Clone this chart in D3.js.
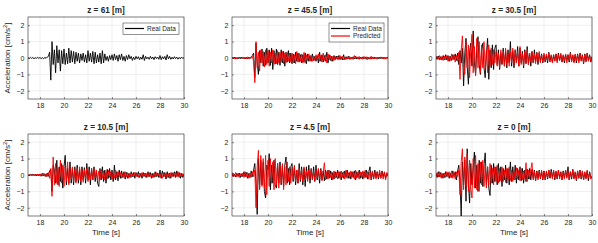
<!DOCTYPE html>
<html>
<head>
<meta charset="utf-8">
<script src="https://cdn.jsdelivr.net/npm/d3@7"></script>
<style>
  body { margin: 0; background: #fff; }
  text { font-family: "Liberation Sans", Arial, sans-serif; fill: #262626; }
</style>
</head>
<body>
<div id="chart"></div>
<script>
// sampling: 17.0 s .. 30.0 s every 0.1 s
let startTime = 17, sampleStep = 0.1, sampleCount = 131;
let time = d3.range(sampleCount).map(i => +(startTime + i * sampleStep).toFixed(1));

let titles = ["z = 61 [m]", "z = 45.5 [m]", "z = 30.5 [m]", "z = 10.5 [m]", "z = 4.5 [m]", "z = 0 [m]"];
let xTicks = [18, 20, 22, 24, 26, 28, 30];
let yTicks = [-2, -1, 0, 1, 2];

let real61 = [
  0.02,-0.03,0.04,-0.02,0.03,-0.04,0.02,-0.03,0.05,-0.02,
  0.03,-0.04,0.02,-0.05,0.04,-0.02,0.06,0.1,0.35,-1.35,
  1.0,-0.4,0.5,-0.9,0.75,-0.3,0.5,-0.8,0.45,-0.35,
  0.55,-0.4,0.3,-0.35,0.6,-0.3,0.45,-0.25,0.4,-0.35,
  0.35,-0.2,0.3,-0.3,0.25,-0.15,0.3,-0.25,0.2,-0.3,
  0.45,-0.2,0.3,-0.25,0.4,-0.35,0.35,-0.3,0.2,-0.25,
  0.3,-0.35,0.45,-0.3,0.25,-0.15,0.1,-0.2,0.15,-0.1,
  0.2,-0.15,0.25,-0.1,0.15,-0.2,0.2,-0.1,0.25,-0.15,
  0.1,-0.2,0.15,-0.1,0.2,-0.05,0.1,-0.15,0.05,-0.1,
  0.1,-0.05,0.08,-0.1,0.05,-0.08,0.2,-0.15,0.1,-0.05,
  0.05,-0.08,0.1,-0.05,0.06,-0.1,0.08,-0.04,0.06,-0.08,
  0.15,-0.1,0.08,-0.05,0.1,-0.12,0.2,-0.05,0.1,-0.08,
  0.05,-0.06,0.08,-0.04,0.05,-0.07,0.04,-0.05,0.06,-0.03,
  0.02];

let real455 = [
  0.05,-0.04,0.06,-0.05,0.03,-0.06,0.05,-0.04,0.06,-0.03,
  0.05,-0.06,0.04,-0.05,0.06,-0.04,0.08,0.15,0.3,-1.2,
  0.9,-0.3,-1.0,0.45,-0.3,0.55,-0.5,0.35,-0.45,0.6,
  -0.3,0.5,-0.45,0.6,-0.7,0.45,-0.35,0.55,-0.4,0.35,
  -0.45,0.5,-0.3,0.4,-0.5,0.35,-0.25,0.45,-0.3,0.3,
  -0.35,0.25,-0.3,0.35,-0.2,0.3,-0.25,0.2,-0.3,0.2,
  -0.25,0.3,-0.35,0.25,-0.2,0.15,-0.2,0.25,-0.15,0.1,
  -0.2,0.15,-0.3,0.35,-0.2,0.2,-0.25,0.15,-0.2,0.35,
  -0.3,0.2,-0.15,0.1,-0.2,0.15,-0.1,0.12,-0.08,0.15,
  -0.1,0.08,-0.12,0.2,-0.1,0.08,-0.06,0.1,-0.08,0.05,
  -0.06,0.08,-0.05,0.1,-0.07,0.05,-0.08,0.06,-0.04,0.07,
  -0.05,0.06,-0.08,0.05,-0.06,0.04,-0.07,0.05,-0.04,0.06,
  -0.05,0.04,-0.06,0.05,-0.04,0.06,-0.05,0.03,-0.05,0.04,
  0.02];

let pred455 = [
  -0.03,0.06,-0.05,0.04,-0.06,0.05,-0.03,0.06,-0.05,0.04,
  -0.06,0.05,-0.04,0.07,-0.05,0.06,-0.02,0.1,-0.2,-1.5,
  1.0,-0.6,0.35,-0.8,0.5,-0.3,0.4,-0.55,0.5,-0.4,
  0.45,-0.5,0.35,-0.3,0.5,-0.4,0.3,-0.35,0.45,-0.3,
  0.35,-0.25,0.4,-0.35,0.3,-0.3,0.35,-0.2,0.3,-0.25,
  0.3,-0.3,0.2,-0.35,0.4,-0.25,0.3,-0.2,0.25,-0.3,
  0.35,-0.3,0.2,-0.15,0.25,-0.2,0.15,-0.2,0.1,-0.15,
  0.2,-0.1,0.25,-0.2,0.15,-0.25,0.3,-0.15,0.2,-0.3,
  0.25,-0.1,0.15,-0.2,0.1,-0.15,0.1,-0.05,0.12,-0.1,
  0.15,-0.08,0.1,-0.12,0.05,-0.1,0.08,-0.06,0.1,-0.08,
  0.06,-0.1,0.15,-0.05,0.08,-0.06,0.1,-0.04,0.06,-0.08,
  0.1,-0.05,0.08,-0.1,0.06,-0.08,0.12,-0.05,0.07,-0.06,
  0.05,-0.08,0.06,-0.04,0.07,-0.05,0.06,-0.07,0.04,-0.06,
  0.03];

let real305 = [
  0.1,-0.08,0.12,-0.1,0.08,-0.12,0.15,-0.1,0.2,-0.12,
  0.15,-0.2,0.1,-0.15,0.2,-0.1,0.25,-0.15,0.3,-0.4,
  0.45,-0.3,0.6,-1.7,0.3,1.2,-0.5,-1.6,0.4,0.9,
  -0.5,1.65,-0.3,-1.0,0.6,1.3,-0.4,-1.0,0.5,0.9,
  -0.6,-1.2,0.3,1.2,-1.3,0.5,-0.6,0.8,-0.7,0.6,
  0.8,-0.4,0.5,-0.7,0.3,-0.4,0.6,-0.5,0.4,-0.6,
  0.5,-0.3,1.0,-0.5,0.4,-0.6,0.5,-0.3,0.7,-0.5,
  0.6,-0.3,0.4,-0.6,0.5,-0.35,0.7,-0.4,0.3,-0.5,
  0.4,-0.3,0.5,-0.25,0.35,-0.4,0.3,-0.2,0.25,-0.3,
  0.2,-0.25,0.15,-0.3,0.35,-0.2,0.15,-0.25,0.2,-0.15,
  0.25,-0.2,0.3,-0.15,0.2,-0.25,0.15,-0.3,0.2,-0.15,
  0.2,-0.25,0.35,-0.2,0.15,-0.25,0.2,-0.3,0.25,-0.2,
  0.3,-0.15,0.2,-0.35,0.25,-0.2,0.3,-0.15,0.2,-0.25,
  0.1];

let pred305 = [
  -0.1,0.12,-0.08,0.15,-0.12,0.1,-0.15,0.12,-0.1,0.15,
  -0.2,0.12,-0.15,0.25,-0.1,0.2,-0.25,0.15,-0.2,0.35,
  -1.3,0.5,1.35,-0.4,-1.0,1.0,-0.6,0.8,-1.2,0.6,
  1.45,-0.9,0.7,-1.1,1.2,-0.6,1.0,-0.9,0.8,-0.6,
  1.0,-0.7,0.5,-0.9,0.8,-0.5,0.6,-0.4,0.5,-0.3,
  0.4,-0.5,0.3,-0.6,0.5,-0.3,0.4,-0.5,0.6,-0.4,
  0.3,-0.5,0.4,-0.3,0.6,-0.4,0.5,-0.3,0.4,-0.5,
  0.7,-0.4,0.3,-0.5,0.4,-0.3,0.5,-0.4,0.3,-0.25,
  0.4,-0.3,0.2,-0.35,0.3,-0.2,0.4,-0.3,0.2,-0.25,
  0.3,-0.2,0.25,-0.15,0.3,-0.25,0.2,-0.3,0.15,-0.2,
  0.25,-0.3,0.2,-0.15,0.3,-0.25,0.2,-0.15,0.25,-0.3,
  0.2,-0.15,0.3,-0.25,0.2,-0.3,0.25,-0.15,0.2,-0.3,
  0.25,-0.2,0.15,-0.3,0.2,-0.25,0.3,-0.2,0.15,-0.2,
  0.05];

let real105 = [
  0.03,-0.05,0.04,-0.03,0.06,-0.04,0.05,-0.06,0.04,-0.05,
  0.06,-0.08,0.1,-0.05,0.08,-0.1,0.12,-0.08,0.25,0.35,
  -1.0,0.6,0.3,-0.5,0.9,-0.6,0.5,-0.4,0.7,-0.8,
  0.5,1.2,-0.6,0.4,-0.5,0.8,-0.5,0.4,-0.6,0.5,
  -0.4,0.6,-0.5,0.35,-0.6,0.5,-0.3,0.45,-0.5,0.7,
  -0.3,0.5,-0.6,0.4,-0.3,0.5,-0.4,0.3,-0.5,-0.7,
  0.4,-0.3,0.5,-0.4,0.3,-0.5,0.35,-0.2,0.4,-0.3,
  0.3,-0.4,0.6,-0.3,0.2,-0.35,0.3,-0.2,0.25,-0.15,
  0.2,-0.25,0.15,-0.2,0.1,-0.15,0.2,-0.1,0.15,-0.2,
  0.15,-0.1,0.2,-0.15,0.1,-0.2,0.15,-0.08,0.1,-0.15,
  0.2,-0.1,0.15,-0.2,0.1,-0.15,0.2,-0.1,0.12,-0.15,
  0.3,-0.2,0.25,-0.1,0.15,-0.25,0.2,-0.15,0.1,-0.2,
  0.15,-0.1,0.2,-0.15,0.25,-0.1,0.15,-0.2,0.1,-0.15,
  0.05];

let pred105 = [
  -0.04,0.05,-0.03,0.06,-0.05,0.04,-0.06,0.05,-0.03,0.06,
  -0.05,0.08,-0.06,0.1,-0.08,0.06,-0.1,0.15,-0.2,0.4,
  -1.3,1.1,-0.6,0.7,-0.5,0.4,-0.7,0.9,-0.5,0.6,
  -0.7,0.5,-0.4,0.8,-0.6,0.4,-0.3,0.5,-0.4,0.35,
  -0.5,0.4,-0.3,0.5,-0.4,0.3,-0.45,0.35,-0.25,0.4,
  -0.4,0.3,-0.25,0.35,-0.3,0.4,-0.2,0.3,-0.35,0.25,
  -0.3,0.35,-0.2,0.25,-0.3,0.2,-0.25,0.3,-0.15,0.2,
  -0.25,0.15,-0.2,0.3,-0.15,0.2,-0.1,0.15,-0.2,0.1,
  -0.15,0.2,-0.1,0.15,-0.2,0.1,-0.15,0.08,-0.1,0.15,
  -0.1,0.12,-0.15,0.1,-0.08,0.15,-0.1,0.12,-0.15,0.1,
  -0.12,0.15,-0.1,0.08,-0.15,0.1,-0.12,0.15,-0.08,0.1,
  -0.15,0.1,-0.2,0.15,-0.1,0.12,-0.15,0.1,-0.2,0.15,
  -0.1,0.12,-0.08,0.15,-0.1,0.2,-0.15,0.1,-0.12,0.08,
  -0.05];

let real45 = [
  0.15,-0.1,0.05,-0.12,0.1,-0.08,0.12,-0.15,0.08,-0.1,
  0.2,-0.1,0.15,-0.2,0.1,-0.15,0.25,-0.1,0.3,0.7,
  -0.5,-2.4,1.0,-0.8,0.9,-0.6,0.8,-1.0,-1.4,0.6,
  0.3,1.3,-0.9,0.6,-0.5,0.9,-0.6,-0.8,0.7,-0.5,
  0.8,-0.6,0.5,-0.7,0.6,1.1,-0.5,0.4,-0.6,0.5,
  0.7,-0.4,0.5,-0.6,0.3,-0.5,0.7,-0.4,0.5,-0.6,
  0.4,-0.7,0.5,-0.3,0.6,-0.5,0.4,-0.3,0.5,-0.4,
  0.6,-0.3,0.35,-0.5,0.4,-0.3,0.25,-0.35,0.3,-0.25,
  0.3,-0.2,0.25,-0.3,0.15,-0.25,0.2,-0.15,0.3,-0.2,
  0.2,-0.3,0.15,-0.2,0.25,-0.15,0.3,-0.2,0.15,-0.25,
  0.2,-0.15,0.25,-0.3,0.2,-0.15,0.3,-0.2,0.15,-0.25,
  0.2,-0.15,0.3,-0.25,0.2,0.5,-0.3,0.2,-0.25,0.3,
  -0.15,0.2,-0.25,0.15,-0.2,0.25,-0.1,0.15,-0.2,0.1,
  -0.05];

let pred45 = [
  -0.1,0.12,-0.08,0.15,-0.12,0.1,-0.15,0.08,-0.1,0.12,
  -0.15,0.2,-0.1,0.15,-0.2,0.1,-0.15,0.2,-0.1,0.3,
  -2.0,0.5,1.5,-0.9,1.2,-0.7,1.0,-0.8,1.2,-1.2,
  0.9,-0.7,1.0,-0.5,0.8,-0.9,1.0,-0.6,0.7,-0.8,
  0.6,-0.5,0.7,-0.9,0.5,-0.6,0.8,-0.4,0.5,-0.5,
  0.4,-0.3,0.6,-0.4,0.3,-0.5,0.4,-0.3,0.35,-0.4,
  0.5,-0.3,0.25,-0.4,0.3,-0.2,0.35,-0.3,0.2,-0.35,
  0.3,-0.2,0.4,-0.25,0.3,-0.35,0.2,0.75,-0.3,0.2,
  -0.25,0.3,-0.15,0.2,-0.3,0.25,-0.2,0.15,-0.25,0.2,
  -0.2,0.25,-0.15,0.2,-0.25,0.3,-0.2,0.15,-0.2,0.25,
  -0.15,0.2,-0.25,0.3,-0.2,0.15,-0.25,0.2,-0.15,0.25,
  -0.2,0.3,-0.15,0.2,-0.25,0.2,-0.3,0.25,-0.2,0.15,
  -0.25,0.2,-0.15,0.3,-0.2,0.15,-0.25,0.2,-0.3,0.15,
  -0.1];

let real0 = [
  0.1,-0.15,0.2,-0.1,0.15,-0.2,0.1,-0.15,0.2,-0.1,
  0.15,-0.2,0.1,-0.15,0.25,-0.1,0.2,-0.3,0.25,0.6,
  -0.5,-2.5,0.8,-0.6,0.9,-1.6,1.6,-0.5,-1.7,0.7,
  -0.6,0.5,1.4,-0.8,0.6,-1.0,0.9,-0.5,0.8,-0.7,
  0.6,1.35,-0.6,0.5,-0.8,-1.25,0.6,-0.5,0.7,-0.4,
  0.5,-0.6,0.7,-0.4,0.5,-0.7,0.4,-0.3,0.6,-0.5,
  0.4,-0.6,0.8,-0.4,0.5,-0.3,0.6,-0.5,0.4,-0.3,
  0.5,-0.35,0.4,-0.5,0.3,-0.4,0.35,-0.25,0.4,-0.3,
  0.35,-0.2,0.3,-0.35,0.25,-0.2,0.3,-0.25,0.2,-0.3,
  0.25,-0.3,0.2,-0.25,0.3,-0.2,0.35,-0.15,0.25,-0.3,
  0.2,-0.25,0.3,-0.15,0.2,-0.3,0.25,-0.2,0.3,-0.15,
  0.5,-0.3,0.2,-0.25,0.35,-0.2,0.15,-0.35,0.25,-0.2,
  0.3,-0.25,0.2,-0.3,0.15,-0.2,0.25,-0.35,0.2,-0.15,
  -0.1];

let pred0 = [
  -0.1,0.15,-0.12,0.2,-0.15,0.1,-0.2,0.12,-0.15,0.2,
  -0.1,0.2,-0.15,0.25,-0.2,0.15,-0.25,0.2,-0.1,0.3,
  -1.2,0.8,1.6,-0.9,1.1,-0.7,1.3,-1.0,0.9,-0.8,
  -1.4,1.0,-0.8,1.2,-0.9,0.7,-1.0,0.8,-0.6,0.9,
  -0.7,0.6,-0.8,0.5,-0.6,0.7,-0.5,0.4,-0.6,0.5,
  -0.4,0.6,-0.5,0.4,-0.35,0.5,-0.4,0.3,-0.45,0.4,
  -0.3,0.5,-0.35,0.3,-0.4,0.25,-0.3,0.45,-0.25,0.3,
  -0.35,0.4,-0.3,0.25,-0.2,0.75,-0.4,0.3,-0.25,0.35,
  0.75,-0.3,0.25,-0.35,0.2,-0.3,0.25,-0.2,0.3,-0.25,
  0.2,-0.3,0.25,-0.2,0.3,-0.15,0.2,-0.25,0.3,-0.2,
  0.25,-0.2,0.3,-0.25,0.15,-0.3,0.2,-0.25,0.3,-0.2,
  0.25,-0.3,0.2,-0.15,0.3,-0.25,0.2,-0.3,0.25,-0.2,
  0.3,-0.2,0.25,-0.3,0.2,-0.25,0.3,-0.2,0.15,-0.25,
  -0.1];

let realSeries = [real61, real455, real305, real105, real45, real0];
let predSeries = [null, pred455, pred305, pred105, pred45, pred0];

let width = 598, height = 243;
let panelLeft = [28, 232, 436];
let panelTop = [17, 134];
let pw = 156, ph = 82;

let svg = d3.select("#chart")
    .append("svg")
    .attr("width", width)
    .attr("height", height);

let x = d3.scaleLinear().domain([17, 30]).range([0, pw]);
let y = d3.scaleLinear().domain([-2.5, 2.5]).range([ph, 0]);

svg.append("defs").append("clipPath")
    .attr("id", "plotClip")
    .append("rect")
    .attr("width", pw)
    .attr("height", ph);

titles.forEach(function(title, i) {
    let col = i % 3, row = Math.floor(i / 3);
    let g = svg.append("g")
        .attr("transform", `translate(${panelLeft[col]}, ${panelTop[row]})`);

    // grid
    g.selectAll(".gx").data(xTicks).enter().append("line")
        .attr("x1", d => x(d)).attr("x2", d => x(d))
        .attr("y1", 0).attr("y2", ph)
        .attr("stroke", "#ebebeb").attr("stroke-width", 0.8);
    g.selectAll(".gy").data(yTicks).enter().append("line")
        .attr("x1", 0).attr("x2", pw)
        .attr("y1", d => y(d)).attr("y2", d => y(d))
        .attr("stroke", "#ebebeb").attr("stroke-width", 0.8);

    let line = d3.line()
        .x((d, j) => x(time[j]))
        .y(d => y(d));

    let plot = g.append("g").attr("clip-path", "url(#plotClip)");
    plot.append("path")
        .datum(realSeries[i])
        .attr("d", line)
        .attr("fill", "none")
        .attr("stroke", "#000")
        .attr("stroke-width", 0.9)
        .attr("stroke-linejoin", "round");
    if (predSeries[i]) {
        plot.append("path")
            .datum(predSeries[i])
            .attr("d", line)
            .attr("fill", "none")
            .attr("stroke", "#ff0000")
            .attr("stroke-width", 0.9)
            .attr("stroke-linejoin", "round");
    }

    // axes
    let xAxis = g.append("g")
        .attr("transform", `translate(0, ${ph})`)
        .call(d3.axisBottom(x).tickValues(xTicks).tickSize(-2).tickPadding(4).tickFormat(d3.format("d")));
    let yAxis = g.append("g")
        .call(d3.axisLeft(y).tickValues(yTicks).tickSize(-2).tickPadding(3.5).tickFormat(d3.format("d")));
    [xAxis, yAxis].forEach(function(ax) {
        ax.select(".domain").remove();
        ax.selectAll("line").attr("stroke", "#262626").attr("stroke-width", 0.5);
        ax.selectAll("text").style("font-size", "7px").attr("fill", "#262626")
            .style("font-family", "'Liberation Sans', Arial, sans-serif");
    });

    g.append("rect")
        .attr("width", pw).attr("height", ph)
        .attr("fill", "none")
        .attr("stroke", "#262626")
        .attr("stroke-width", 0.6);

    g.append("text")
        .attr("x", pw / 2).attr("y", -4)
        .attr("text-anchor", "middle")
        .style("font-size", "8.2px")
        .style("font-weight", 700)
        .attr("fill", "#000")
        .text(title);

    if (col === 0) {
        let yl = g.append("text")
            .attr("transform", `translate(${-18}, ${ph / 2}) rotate(-90)`)
            .attr("text-anchor", "middle")
            .attr("fill", "#262626")
            .style("font-size", "8px");
        yl.append("tspan").text("Acceleration [cm/s");
        yl.append("tspan").attr("dy", -3).style("font-size", "6px").text("2");
        yl.append("tspan").attr("dy", 3).text("]");
    }
    if (row === 1) {
        g.append("text")
            .attr("x", pw / 2).attr("y", ph + 18.5)
            .attr("text-anchor", "middle")
            .attr("fill", "#262626")
            .style("font-size", "8px")
            .text("Time [s]");
    }
});

// legends
let legendSpecs = [
    { panel: 0, left: 95, width: 56, labels: ["Real Data"], colors: ["#000"] },
    { panel: 1, left: 97, width: 55, labels: ["Real Data", "Predicted"], colors: ["#000", "#ff0000"] }
];
legendSpecs.forEach(function(spec) {
    let col = spec.panel % 3, row = Math.floor(spec.panel / 3);
    let lg = svg.append("g")
        .attr("transform", `translate(${panelLeft[col] + spec.left}, ${panelTop[row] + 6})`);
    lg.append("rect")
        .attr("width", spec.width)
        .attr("height", 4 + spec.labels.length * 7.5)
        .attr("fill", "#fff")
        .attr("stroke", "#262626")
        .attr("stroke-width", 0.5);
    spec.labels.forEach(function(label, k) {
        let cy = 5.5 + k * 7.5;
        lg.append("line")
            .attr("x1", 2).attr("x2", 21)
            .attr("y1", cy).attr("y2", cy)
            .attr("stroke", spec.colors[k])
            .attr("stroke-width", 1.2);
        lg.append("text")
            .attr("x", 24).attr("y", cy + 2.3)
            .style("font-size", "6.5px")
            .text(label);
    });
});
</script>
</body>
</html>
